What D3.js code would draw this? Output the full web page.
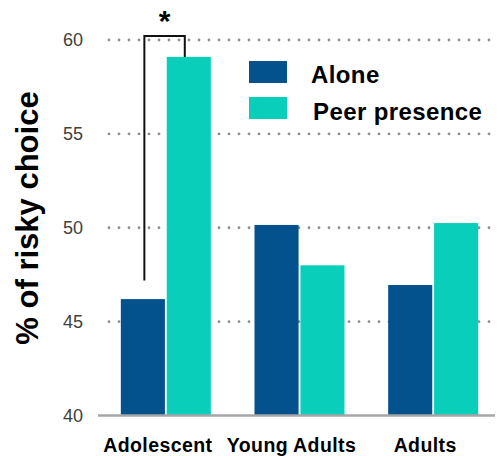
<!DOCTYPE html>
<html>
<head>
<meta charset="utf-8">
<script src="https://cdn.jsdelivr.net/npm/d3@7"></script>
<style>
  html, body { margin: 0; padding: 0; background: #fff; }
  svg { display: block; }
</style>
</head>
<body>
<svg id="chart" width="498" height="456"></svg>
<script>
const categories = ["Adolescent", "Young Adults", "Adults"];
const seriesNames = ["Alone", "Peer presence"];
const alone = [46.2, 50.15, 46.95];
const peer = [59.1, 48.0, 50.25];
const yTicks = [40, 45, 50, 55, 60];
const colors = ["#03518D", "#09CFBA"];

const svg = d3.select("#chart");
const font = "'Liberation Sans', Arial, sans-serif";

const y = d3.scaleLinear().domain([40, 60]).range([415.5, 40]);
const x0 = d3.scaleBand().domain(categories).range([99, 500]);
const step = x0.bandwidth();
const x1 = d3.scaleBand().domain(seriesNames)
  .range([step / 2 - 45, step / 2 + 45]).paddingInner(0.04);

const rows = categories.map((c, i) => ({ cat: c, vals: [alone[i], peer[i]] }));

// gridlines (dotted)
svg.append("g").selectAll("line")
  .data(yTicks.filter(t => t > 40))
  .join("line")
  .attr("x1", 109).attr("x2", 498)
  .attr("y1", d => y(d)).attr("y2", d => y(d))
  .attr("stroke", "#8f8f8f")
  .attr("stroke-width", 2.8)
  .attr("stroke-linecap", "round")
  .attr("stroke-dasharray", "0 10");

// y tick labels
svg.append("g").selectAll("text")
  .data(yTicks)
  .join("text")
  .attr("x", 83)
  .attr("y", d => y(d))
  .attr("dy", "0.36em")
  .attr("text-anchor", "end")
  .attr("font-family", font)
  .attr("font-size", 18)
  .attr("fill", "#404040")
  .text(d => d);

// bars
const groups = svg.append("g").selectAll("g")
  .data(rows)
  .join("g")
  .attr("transform", d => `translate(${x0(d.cat)},0)`);

groups.selectAll("rect")
  .data(d => d.vals.map((v, j) => ({ s: seriesNames[j], v, j })))
  .join("rect")
  .attr("x", d => x1(d.s))
  .attr("width", x1.bandwidth())
  .attr("y", d => y(d.v))
  .attr("height", d => y(40) - y(d.v))
  .attr("fill", d => colors[d.j]);

// baseline
svg.append("line")
  .attr("x1", 98).attr("x2", 495)
  .attr("y1", y(40)).attr("y2", y(40))
  .attr("stroke", "#a6a6a6")
  .attr("stroke-width", 2.5);

// x labels
svg.append("g").selectAll("text")
  .data(categories)
  .join("text")
  .attr("x", d => x0(d) + step / 2 - 8)
  .attr("y", 452)
  .attr("text-anchor", "middle")
  .attr("font-family", font)
  .attr("font-weight", "bold")
  .attr("font-size", 19.5)
  .attr("letter-spacing", 0.4)
  .attr("fill", "#000")
  .text(d => d);

// y title
svg.append("text")
  .attr("transform", "translate(38,218) rotate(-90)")
  .attr("text-anchor", "middle")
  .attr("font-family", font)
  .attr("font-weight", "bold")
  .attr("font-size", 31)
  .attr("fill", "#000")
  .text("% of risky choice");

// legend
const legend = svg.append("g");
seriesNames.forEach((s, i) => {
  legend.append("rect")
    .attr("x", 249).attr("y", 61 + i * 36)
    .attr("width", 38).attr("height", 22)
    .attr("fill", colors[i]);
  legend.append("text")
    .attr("x", 311 + i * 2).attr("y", 83 + i * 37)
    .attr("font-family", font)
    .attr("font-weight", "bold")
    .attr("font-size", 24)
    .attr("letter-spacing", 0.4)
    .attr("fill", "#000")
    .text(s);
});

// significance bracket
const c0 = categories[0];
const xl = x0(c0) + x1(seriesNames[0]) + x1.bandwidth() / 2 + 1.5;
const xr = x0(c0) + x1(seriesNames[1]) + x1.bandwidth() / 2 - 4;
const topY = y(60) - 4;
svg.append("path")
  .attr("d", `M${xl},${y(alone[0]) - 18.5}V${topY}H${xr}V${y(peer[0])}`)
  .attr("fill", "none")
  .attr("stroke", "#111")
  .attr("stroke-width", 2);
svg.append("text")
  .attr("x", (xl + xr) / 2)
  .attr("y", 31)
  .attr("text-anchor", "middle")
  .attr("font-family", font)
  .attr("font-weight", "bold")
  .attr("font-size", 30)
  .attr("fill", "#000")
  .text("*");
</script>
</body>
</html>
